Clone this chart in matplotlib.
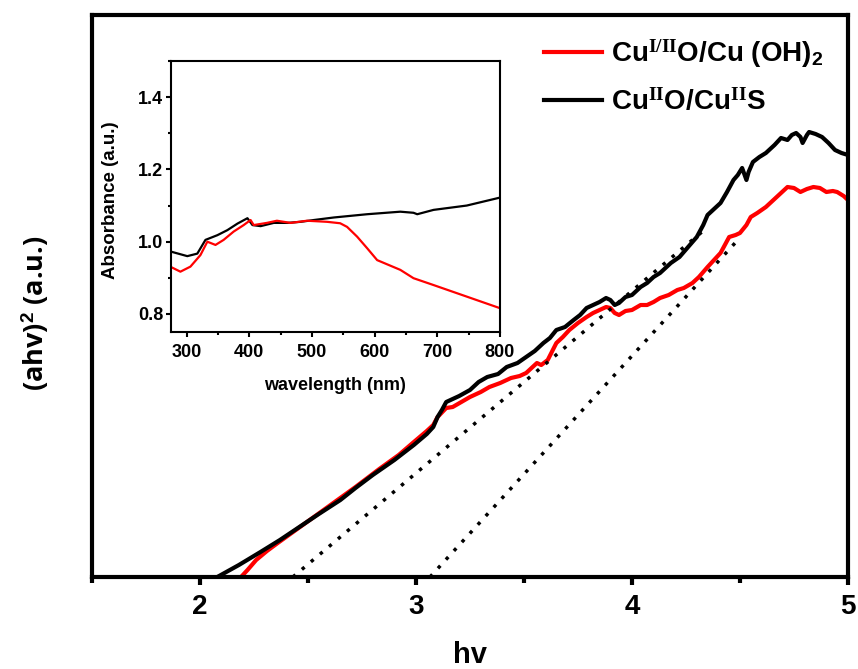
import matplotlib as mplt
mplt.use("Agg")
import matplotlib.pyplot as plt
from matplotlib.ticker import MultipleLocator

# Tauc plot, photon energy (eV) vs (ahv)^2 in arbitrary units
RED_HV = [2.19, 2.22, 2.26, 2.31, 2.36, 2.45, 2.54, 2.63, 2.72, 2.83, 2.92, 2.99, 3.05, 3.08,
          3.10, 3.14, 3.17, 3.21, 3.25, 3.30, 3.34, 3.39, 3.44, 3.48, 3.51, 3.54, 3.56, 3.58,
          3.61, 3.65, 3.68, 3.71, 3.75, 3.79, 3.82, 3.85, 3.88, 3.90, 3.92, 3.94, 3.97, 4.00,
          4.04, 4.07, 4.10, 4.13, 4.17, 4.21, 4.24, 4.28, 4.31, 4.35, 4.38, 4.41, 4.43, 4.45,
          4.48, 4.50, 4.53, 4.55, 4.58, 4.62, 4.66, 4.69, 4.72, 4.75, 4.78, 4.81, 4.84, 4.87,
          4.90, 4.93, 4.95, 4.98, 5.00]
RED_Y = [0.00, 0.07, 0.17, 0.26, 0.34, 0.48, 0.62, 0.76, 0.90, 1.08, 1.22, 1.35, 1.46, 1.52,
         1.60, 1.69, 1.70, 1.75, 1.80, 1.85, 1.90, 1.94, 1.99, 2.01, 2.04, 2.10, 2.14, 2.12,
         2.17, 2.34, 2.40, 2.47, 2.54, 2.60, 2.64, 2.67, 2.70, 2.69, 2.64, 2.62, 2.66, 2.67,
         2.72, 2.72, 2.75, 2.79, 2.82, 2.87, 2.89, 2.94, 3.00, 3.10, 3.17, 3.24, 3.32, 3.40,
         3.42, 3.44, 3.52, 3.60, 3.64, 3.70, 3.78, 3.84, 3.90, 3.89, 3.85, 3.88, 3.90, 3.89,
         3.85, 3.86, 3.85, 3.81, 3.77]

BLACK_HV = [2.08, 2.18, 2.28, 2.37, 2.46, 2.55, 2.65, 2.72, 2.80, 2.90, 2.99, 3.05, 3.08, 3.10,
            3.12, 3.14, 3.20, 3.25, 3.29, 3.33, 3.38, 3.42, 3.47, 3.51, 3.55, 3.59, 3.62, 3.65,
            3.69, 3.73, 3.76, 3.79, 3.82, 3.85, 3.88, 3.90, 3.92, 3.94, 3.97, 4.00, 4.04, 4.07,
            4.10, 4.13, 4.18, 4.22, 4.26, 4.30, 4.33, 4.35, 4.38, 4.41, 4.44, 4.47, 4.49, 4.51,
            4.53, 4.54, 4.56, 4.59, 4.62, 4.66, 4.69, 4.72, 4.74, 4.76, 4.78, 4.79, 4.81, 4.82,
            4.85, 4.88, 4.91, 4.94, 4.97, 5.00]
BLACK_Y = [0.00, 0.12, 0.25, 0.37, 0.50, 0.63, 0.77, 0.89, 1.02, 1.17, 1.32, 1.43, 1.50, 1.60,
           1.67, 1.75, 1.81, 1.87, 1.95, 2.00, 2.03, 2.10, 2.14, 2.20, 2.26, 2.34, 2.39, 2.47,
           2.50, 2.57, 2.62, 2.69, 2.72, 2.75, 2.79, 2.77, 2.72, 2.74, 2.80, 2.82, 2.90, 2.94,
           3.00, 3.04, 3.14, 3.20, 3.30, 3.40, 3.52, 3.62, 3.68, 3.74, 3.85, 3.97, 4.02, 4.09,
           3.97, 4.05, 4.15, 4.20, 4.24, 4.32, 4.39, 4.37, 4.42, 4.44, 4.40, 4.34, 4.42, 4.45,
           4.43, 4.40, 4.34, 4.27, 4.24, 4.22]

# linear fits of the absorption edges (dotted)
FIT1_HV = [2.43, 4.34]
FIT1_Y = [0.00, 3.48]
FIT2_HV = [3.065, 4.49]
FIT2_Y = [0.00, 3.37]

SERIES_LABELS = [r'Cu$^{\mathrm{I/II}}$O/Cu (OH)$_{\mathbf{2}}$',
                 r'Cu$^{\mathrm{II}}$O/Cu$^{\mathrm{II}}$S']

# inset: absorbance spectra
INSET_RED_WL = [276, 290, 306, 322, 333, 346, 359, 375, 391, 402, 407, 428, 444, 466, 492,
                524, 545, 556, 572, 588, 604, 641, 662, 694, 747, 800]
INSET_RED_A = [0.929, 0.917, 0.931, 0.963, 1.000, 0.991, 1.005, 1.028, 1.046, 1.060, 1.046,
               1.052, 1.058, 1.052, 1.058, 1.055, 1.051, 1.041, 1.014, 0.982, 0.949, 0.922,
               0.899, 0.880, 0.848, 0.816]
INSET_BLACK_WL = [276, 301, 317, 330, 349, 365, 381, 397, 405, 418, 439, 461, 482, 503, 535,
                  588, 641, 662, 668, 694, 747, 800]
INSET_BLACK_A = [0.972, 0.960, 0.967, 1.005, 1.018, 1.032, 1.050, 1.065, 1.046, 1.043, 1.052,
                 1.052, 1.055, 1.060, 1.067, 1.076, 1.083, 1.080, 1.076, 1.088, 1.100, 1.122]

plt.rcParams['mathtext.fontset'] = 'custom'
plt.rcParams['mathtext.rm'] = 'Liberation Serif:bold'
plt.rcParams['mathtext.it'] = 'Liberation Serif:italic:bold'
plt.rcParams['mathtext.bf'] = 'Liberation Sans:bold'

NARROW = ['Liberation Sans Narrow', 'Liberation Sans']

fig = plt.figure(figsize=(8.58, 6.69), dpi=100)
ax = fig.add_axes([0.1072, 0.1375, 0.8811, 0.8401])

ax.plot(RED_HV, RED_Y, color='red', lw=3, label=SERIES_LABELS[0])
ax.plot(BLACK_HV, BLACK_Y, color='black', lw=3, label=SERIES_LABELS[1])
ax.plot(FIT1_HV, FIT1_Y, color='black', lw=2.5, linestyle=(0, (1, 2.4)))
ax.plot(FIT2_HV, FIT2_Y, color='black', lw=2.5, linestyle=(0, (1, 2.4)))

ax.set_xlim(1.5, 5)
ax.set_ylim(0, 5.62)
ax.set_yticks([])
ax.xaxis.set_major_locator(MultipleLocator(1))
ax.xaxis.set_minor_locator(MultipleLocator(0.5))
ax.tick_params(axis='x', which='major', direction='out', length=6, width=3, pad=6)
ax.tick_params(axis='x', which='minor', direction='out', length=4, width=3)
for lab in ax.get_xticklabels():
    lab.set_family(NARROW)
    lab.set_fontweight('bold')
    lab.set_fontsize(20)
for sp in ax.spines.values():
    sp.set_linewidth(3)

ax.set_xlabel('hv', family=NARROW, fontweight='bold', fontsize=21, va='center')
ax.xaxis.set_label_coords(0.5, -0.138)
ax.set_ylabel(r'(ahv)$^{\mathbf{2}}$ (a.u.)', family='Open Sans', fontweight='bold', fontsize=19.5, va='center')
ax.yaxis.set_label_coords(-0.075, 0.47)

leg = ax.legend(loc='upper right', bbox_to_anchor=(1.0, 1.005), frameon=False,
                handlelength=2.1, handletextpad=0.3, labelspacing=0.65,
                prop={'family': 'Liberation Sans', 'weight': 'bold', 'size': 20})

# inset
ins = fig.add_axes([0.1993, 0.5037, 0.3834, 0.4051])
ins.plot(INSET_BLACK_WL, INSET_BLACK_A, color='black', lw=1.6)
ins.plot(INSET_RED_WL, INSET_RED_A, color='red', lw=1.6)
ins.set_xlim(275, 800)
ins.set_ylim(0.75, 1.5)
ins.xaxis.set_major_locator(MultipleLocator(100))
ins.xaxis.set_minor_locator(MultipleLocator(50))
ins.yaxis.set_major_locator(MultipleLocator(0.2))
ins.yaxis.set_minor_locator(MultipleLocator(0.1))
ins.tick_params(which='both', direction='out', top=False, right=False, width=1.5)
ins.tick_params(which='major', length=3.5)
ins.tick_params(which='minor', length=2)
ins.tick_params(axis='x', pad=5)
ins.tick_params(axis='y', pad=2)
for lab in ins.get_xticklabels() + ins.get_yticklabels():
    lab.set_family(NARROW)
    lab.set_fontweight('bold')
    lab.set_fontsize(13)
for sp in ins.spines.values():
    sp.set_linewidth(1.5)
ins.set_xlabel('wavelength (nm)', family='Liberation Sans', fontweight='bold', fontsize=13, va='center')
ins.xaxis.set_label_coords(0.5, -0.196)
ins.set_ylabel('Absorbance (a.u.)', family='Liberation Sans', fontweight='bold', fontsize=13.5, va='center')
ins.yaxis.set_label_coords(-0.185, 0.487)

plt.savefig('out.png', dpi=100)
